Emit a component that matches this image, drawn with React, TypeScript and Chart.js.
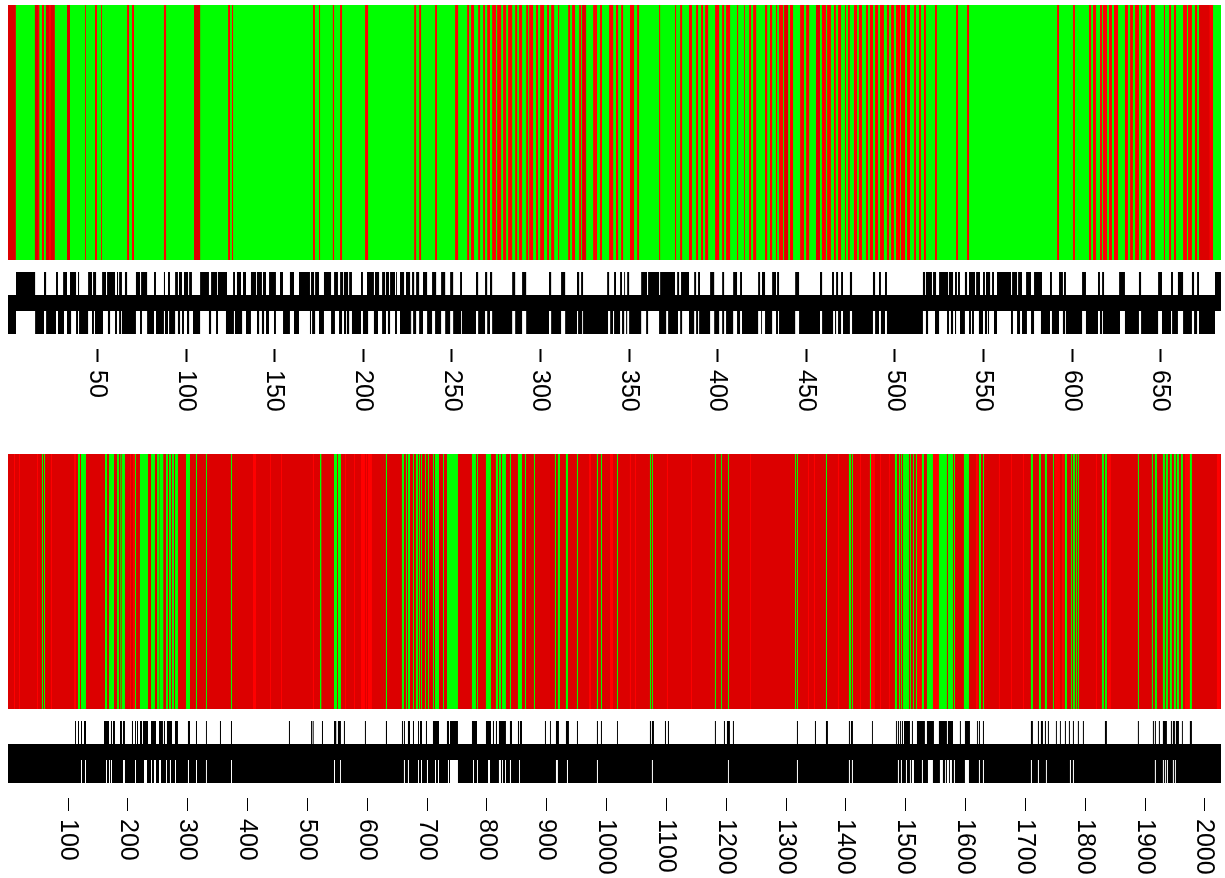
import React, { useEffect, useRef } from "react";
import { Chart, registerables } from "chart.js";

Chart.register(...registerables);

// All stripe lists are flat [start, end, start, end, ...] in axis units.
const topRange = [-0.5, 684];
const bottomRange = [-0.5, 2027];
const topTicks = [50, 100, 150, 200, 250, 300, 350, 400, 450, 500, 550, 600, 650];
const bottomTicks = [100, 200, 300, 400, 500, 600, 700, 800, 900, 1000, 1100, 1200, 1300, 1400, 1500, 1600, 1700, 1800, 1900, 2000];

const topRed = [
  -0.5,3.8,14.7,17.2,18.7,19.8,20.9,25.8,32.8,34.5,43,43.5,48.6,49.7,52,52.5,66.7,67.8,69.5,70.6,87.5,88.7,104.5,107.9,123.7,124.8,125.9,126.5,171.6,172.7,175,175.6,182.8,183.5,186.9,188,201,202.7,
  228.7,229.8,231.5,232.6,240.5,241.6,251.8,253.5,258.6,259.7,260.8,262.5,264.8,265.9,267.6,268.7,269.9,271.5,272.7,274.9,275.5,277.8,278.9,280.6,281.7,284,285.7,286.8,287.9,289.6,291.9,293,293.6,295.8,297.5,298.6,299.8,302,303.7,304.8,306,307.7,309.9,310.5,315.6,316.7,317.8,319.5,321.8,322.9,323.5,325.7,329.7,331.9,333.6,334.7,338.7,341,342.6,343.8,345.5,346.6,350.5,352.8,354.5,355.6,366.9,367.5,375.9,376.5,378.8,379.9,383.8,385.5,387.8,388.9,390.6,391.7,392.9,394.6,398.5,400.8,402.5,403.6,404.7,407,410.9,411.5,414.9,415.4,417.7,418.8,420,421.7,426.7,427.9,429.5,430.7,432.9,433.5,434.6,436.9,437.5,439.7,440.8,442.5,446.5,448.7,449.9,451.6,
  455.5,457.7,458.8,461.1,461.7,463.9,465.6,466.7,467.9,469.6,471.8,472.4,473.5,474.6,476.9,478.6,479.7,481.4,483.7,484.8,485.9,487.6,488.8,490.5,491.6,493.8,495.5,496.7,497.8,499.5,500.6,502.9,503.4,505.7,506.8,508.5,510.8,511.9,513.6,514.7,516.4,517.5,522.6,523.7,534.5,535.6,540.7,541.8,591.5,592.6,600.5,601.6,609.5,610.7,611.8,613.5,615.7,616.9,617.4,619.7,620.8,622.5,623.6,625.9,629.8,631.5,632.7,634.3,635.5,637.7,638.9,639.4,641.7,643.4,644.5,646.8,651.8,652.4,654.7,655.8,657.5,658.6,662.6,664.8,665.4,667.6,669.3,670.5,671.6,679.5,
];
const topDark = [-0.5,3.8,14.7,16.5,20.9,22.6,23.7,25.8,32.8,34.5,104.5,107.9,323.5,325.7,437.5,439.7,455.5,457.7,671.6,677.5];

const topUpper = [
  4,14.8,19.8,21,26.6,27.7,30.6,32.8,34.5,37.9,39,39.6,44.7,46.9,47.5,49.2,52.6,54.8,55.4,59.9,61,61.6,62.2,63.8,65.5,66.7,71.7,74,74.6,78,81.9,83,87.5,88.1,89.8,90.9,93.8,95.4,96,97.7,98.8,101.1,101.7,103.3,107.9,112.9,114.1,117.5,118,123.1,126.5,127.6,128.7,131,132.1,133.8,136.6,139.5,140,142.8,143.4,145.1,146.8,150.7,153,154.7,158.6,160.9,163.7,169.9,170.5,172.2,172.8,175,177.8,181.8,183.5,185.7,186.9,188.6,189.1,191.4,192,193.6,198.7,199.8,202.1,206,206.6,208.9,210.6,212.3,212.8,214.5,215.1,217.9,218.5,219,220.7,223,224.1,226.4,
  227.5,228.7,229.8,231.5,233.7,236,238.8,241.1,243.9,246.2,249,250.7,254.6,255.7,263.6,264.8,268.7,269.9,271.5,272.7,284,285.7,289.6,291.9,304.8,306,311.6,313.9,320.6,321.8,322.9,324,337.6,338.7,341.5,342.6,344.9,346,347.2,347.7,348.9,350,356.8,360.1,360.7,366.9,367.5,375.9,377.1,378.2,379.3,383.8,386.7,387.8,388.9,390,395.7,398,402.5,403.6,408.7,410.9,412.6,413.7,422.8,423.9,425,426.7,430.7,432.9,433.5,434.6,443.7,445.9,
  457.7,458.9,464.5,465.6,466.8,467.9,469.6,470.7,474.6,475.8,487.6,488.8,491,492.1,494.4,495.5,515.8,517,517.5,520.9,521.5,523.2,524.9,530,530.5,532.8,533.9,535,535.6,536.7,539.5,540.7,541.8,545.2,545.8,548,549.7,550.8,551.4,553.7,554.8,555.9,557.6,565.5,566.1,568.9,569.5,571.7,574,576.8,578.5,583,587.5,588.6,592.6,594.8,595.4,596.5,605.6,607.8,614.6,615.7,616.9,618,626.5,629.8,637.7,638.9,648.5,650.7,655.8,656.9,659.7,662.6,667.6,668.8,670.5,671.6,680.6,684,
];
const topLower = [
  -0.5,4,14.8,19.8,21,26.6,27.7,31.1,32.8,35.1,37.9,39,39.6,44.7,46.9,48,48.6,53.1,55.9,57.1,59.9,61,62.2,63.3,63.8,71.7,74,75.1,78,81.9,83,87.5,88.1,89.8,90.4,93.8,95.4,96.6,97.7,98.8,100.5,101.7,103.9,107.9,112.9,114.1,116.9,118,122.5,127,127.6,131.6,133.8,136.6,140,141.2,142.8,144,145.1,146.8,149.6,150.7,154.7,158.6,160.9,163.7,169.9,170.5,171.1,172.8,175,177.8,181.8,184,186.3,188,189.1,190.3,190.8,192,193.6,198.7,199.8,202.7,206,208.3,210.6,212.8,213.9,215.1,217.9,219,220.7,226.4,
  226.4,227,228.1,229.8,231.5,233.7,236,238.8,240.5,243.9,246.2,249,250.7,255.2,255.7,263.6,264.8,268.7,269.9,271.5,272.7,284,285.7,289.6,291.9,304.8,306,311.6,313.9,320.6,321.2,323.5,324,338.1,339.3,340.9,341.5,344.9,346,347.2,348.3,348.9,350,356.8,359.6,360.7,366.9,370.9,372,377.6,378.8,379.9,383.8,386.7,387.8,388.9,389.5,395.7,398,400.8,402.5,403.6,404.7,408.7,410.9,412.6,413.7,422.8,424.5,425,426.7,430.7,432.9,434,434.6,443.7,445.9,454.9,
  454.9,457.7,458.9,465.1,466.2,466.8,467.9,469.6,470.7,474.6,475.8,487.6,488.8,491,492.1,494.4,495.5,515.8,517.5,518.7,522.6,524.9,529.4,530.5,531.6,532.8,533.9,534.5,536.7,539.5,541.8,542.9,543.5,544.6,547.4,549.7,550.8,552,552.5,553.1,555.9,557.6,565.5,566.6,568.9,570.6,571.7,574.5,576.8,578.5,582.4,587.5,588.6,592.6,594.8,596,596.5,605.6,607.8,614.6,615.7,616.9,617.4,627,629.8,637.7,638.9,648.5,650.7,655.8,656.4,659.7,662.6,667.6,668.8,670.5,671.6,680.6,
];

const bottomGreen = [
  56.3,58,59.7,61.3,116.5,119.8,121.5,129.9,161.6,165,168.3,176.7,181.7,185,187.2,189,190,195,211.8,213.4,220.1,233.5,238.5,245.2,248.5,251.9,252.6,259.1,263.6,266.9,268.6,272,273.6,277,278.6,283.6,297,303.7,313.7,315.4,330.4,332,372.2,373.9,521,523.2,544.4,549.4,551,556,631.2,633,658,661.3,664.7,666.4,668,671.4,
  676.4,678.1,681.4,684.8,686.4,688.1,689.8,691.5,696.5,698.1,701.5,703.2,709.8,711.5,713.2,719.9,726.6,728.2,733.2,751.6,775,781.7,783.4,785,798.4,806.8,815.1,818.5,820.1,823.5,825.2,831.8,838.5,840.2,851.9,858.6,863.6,865.3,878.6,880.3,913.7,915.4,918.7,922.1,932.1,935.5,950.5,952.2,983.9,985.6,990.6,992.3,1017.4,1019,1072.5,1074.2,1075.8,1077.5,1181.1,1182.8,1191.2,1192.8,1202.9,1204.5,1314.9,1316.5,1318.2,1319.9,
  1366.7,1368.4,1405.1,1408.5,1410.1,1411.8,1440.2,1441.9,1482,1485.3,1488.7,1490.4,1492,1493.7,1495.4,1505.4,1507.1,1508.7,1512.1,1513.8,1517.1,1518.8,1527.1,1530.5,1535.5,1545.5,1555.5,1568.9,1570.6,1579,1580.6,1582.3,1597.3,1605.7,1622.4,1625.8,1629.1,1630.8,1709.3,1712.6,1722.7,1726,1732.7,1736,1746.1,1747.7,1766.1,1769.5,1776.2,1777.8,1779.5,1782.8,1784.5,1786.2,1787.8,1789.5,1828,1831.3,1833,1836.3,1888.1,1889.8,1911.5,1913.2,1916.5,1919.9,1929.9,1933.3,1934.9,1938.3,1941.6,1945,1948.3,1951.6,1953.3,1956.7,1960,1963.3,1975,1978.4,
];
const bottomBright = [
  9.5,11.2,18,19.6,48,49.6,71.4,73,109.8,113.1,203.4,205.1,208.4,211.8,409,414,437.4,439,455.8,457.4,509.2,510.9,562.7,564.4,577.8,579.4,589.5,596.1,597.8,599.5,601.2,607.8,
  970.6,973.9,1005.7,1010.7,1039,1040.7,1047.4,1049.1,1100.9,1102.6,1141,1142.7,1239.7,1241.3,1336.6,1338.2,1346.6,1348.3,
  1386.7,1388.4,1423.5,1425.2,1441.9,1448.6,1457,1458.6,1472,1473.6,1518.8,1527.1,1545.5,1555.5,1617.4,1620.7,1655.8,1657.5,1675.9,1677.5,1696,1697.6,1749.4,1757.8,1761.1,1764.5,1818,1819.6,1838,1843,1966.7,1975,2020.2,2025.2,
];
const bottomUpper = [
  111.5,113.1,116.5,118.2,121.5,123.2,126.5,129.9,160,168.3,171.6,173.3,175,178.3,186.7,190,191.7,195,206.7,208.4,211.8,213.4,215.1,216.8,220.1,223.5,225.1,233.5,238.5,246.9,251.9,258.5,260.2,261.9,265.2,273.6,278.6,283.6,300.3,303.7,313.7,315.4,330.4,332,353.8,355.5,372.2,373.9,469.1,470.8,506,507.6,508.7,510.4,524.3,526,544.4,548.2,551,556,561,562.7,596.1,597.8,631.2,633,658,659.7,661.3,663,668,671.4,
  676.4,678.1,684.8,686.4,688.1,691.5,698.1,699.8,709.8,719.9,733.2,736.6,738.3,751.6,775,783.4,798.4,806.8,810.1,811.8,815.1,816.8,820.1,831.8,838.5,841.9,851.9,853.6,855.2,858.6,897,898.7,905.4,907,915.4,920.4,932.1,937.1,950.5,952.2,983.9,985.6,990.6,992.3,1017.4,1019,1072.5,1074.2,1075.8,1079.2,1097.6,1099.3,1102.6,1104.3,1181.1,1182.8,1196.2,1197.9,1201.2,1206.2,1211.2,1212.9,1318.2,1319.9,1348.3,1350,
  1366.7,1370,1405.1,1406.8,1408.5,1411.8,1443.6,1445.2,1483.7,1485.3,1487,1488.7,1490.4,1492,1493.7,1495.4,1497.1,1507.1,1510.4,1512.1,1518.8,1532.1,1535.5,1547.2,1555.5,1568.9,1570.6,1579,1590.6,1592.3,1599,1607.4,1619.1,1620.7,1622.4,1624.1,1629.1,1630.8,1709.3,1712.6,1721,1722.7,1726,1729.4,1732.7,1734.4,1737.7,1739.4,1751.1,1752.7,1757.8,1759.4,1766.1,1767.8,1772.8,1774.5,1779.5,1781.2,1787.8,1789.5,1796.2,1797.9,1833,1836.3,1888.1,1889.8,1913.2,1914.9,1916.5,1918.2,1923.2,1924.9,1929.9,1936.6,1943.3,1945,1946.6,1950,1951.6,1956.7,1961.7,1963.3,1975,1978.4,
];
const bottomLowerGaps = [
  121.5,123.2,128.2,129.9,163.3,165,168.3,170,171.6,173.3,191.7,195,211.8,213.4,226.8,231.8,238.5,240.2,243.5,246.9,251.9,255.2,263.6,265.2,270.2,271.9,278.6,280.3,300.3,302,313.7,315.4,330.4,332,372.2,373.9,544.4,546.1,554.4,556,661.3,663,668,669.7,
  684.8,686.4,689.8,691.5,699.8,701.5,713.2,714.9,718.2,719.9,734.9,736.6,738.3,751.6,776.7,778.4,783.4,785,801.8,805.1,820.1,823.5,825.2,826.8,830.2,831.8,838.5,840.2,853.6,855.2,915.4,918.7,933.8,935.5,983.9,985.6,1075.8,1077.5,1202.9,1204.5,1318.2,1319.9,
  1405.1,1406.8,1410.1,1411.8,1487,1488.7,1492,1493.7,1500.4,1502.1,1507.1,1508.7,1510.4,1513.8,1527.1,1528.8,1537.2,1545.5,1557.2,1562.2,1565.6,1567.2,1568.9,1572.3,1573.9,1577.3,1580.6,1582.3,1599,1605.7,1622.4,1624.1,1629.1,1630.8,1709.3,1711,1721,1722.7,1734.4,1736,1774.5,1776.2,1779.5,1781.2,1916.5,1918.2,1929.9,1931.6,1933.3,1934.9,1936.6,1938.3,1946.6,1948.3,1950,1951.6,
];

const GREEN = "#00FF00";
const RED = "#FF0000";
const DARK = "#DC0000";
const BLACK = "#000000";
const FONT = '25px "Liberation Sans", Arial, sans-serif';
const heatRow = { center: 132.5, size: 255 };
const upperRow = { center: 283.5, size: 23 };
const bandRow = { center: 303, size: 16 };
const lowerRow = { center: 322.5, size: 23 };

const complement = (gaps: number[], range: number[]) => {
  const out = [range[0]];
  gaps.forEach((g) => out.push(g));
  out.push(range[1]);
  return out;
};

const layer = (flat: number[], row: { center: number; size: number }, color: string) => {
  const data: { x: number[]; y: number }[] = [];
  for (let i = 0; i + 1 < flat.length; i += 2) data.push({ x: [flat[i], flat[i + 1]], y: row.center });
  return {
    data,
    backgroundColor: color,
    barThickness: row.size,
    grouped: false,
    inflateAmount: 0,
    borderWidth: 0,
  };
};

const makeChart = (canvas: HTMLCanvasElement, paintOrder: any[], range: number[], ticks: number[], tickWidth: number) => {
  const axisHeight = canvas.height - 349;
  const labels = {
    id: "clockwiseTickLabels",
    afterDraw(chart: any) {
      const { ctx, scales } = chart;
      ctx.save();
      ctx.font = FONT;
      ctx.fillStyle = BLACK;
      ctx.textAlign = "left";
      ctx.textBaseline = "middle";
      ticks.forEach((t) => {
        ctx.save();
        ctx.translate(scales.x.getPixelForValue(t) - 0.5, 370);
        ctx.rotate(Math.PI / 2);
        ctx.fillText(String(t), 0, 0);
        ctx.restore();
      });
      ctx.restore();
    },
  };
  return new Chart(canvas, {
    type: "bar",
    // Chart.js paints the first dataset last, so the list is reversed.
    data: { datasets: [...paintOrder].reverse() },
    plugins: [labels],
    options: {
      indexAxis: "y",
      animation: false,
      responsive: false,
      devicePixelRatio: 1,
      layout: { padding: { left: 8, right: 4, top: 5, bottom: 0 } },
      plugins: { legend: { display: false }, tooltip: { enabled: false } },
      scales: {
        x: {
          type: "linear",
          position: "bottom",
          min: range[0],
          max: range[1],
          border: { display: false },
          grid: { drawOnChartArea: false, drawTicks: true, tickLength: 13, tickColor: BLACK, tickWidth },
          ticks: { display: false },
          afterBuildTicks: (s: any) => {
            s.ticks = ticks.map((value) => ({ value }));
          },
          afterFit: (s: any) => {
            s.height = axisHeight;
          },
        },
        y: { type: "linear", display: false, reverse: true, min: 5, max: 349, offset: false },
      },
    } as any,
  });
};

export default function App() {
  const topRef = useRef<HTMLCanvasElement>(null);
  const bottomRef = useRef<HTMLCanvasElement>(null);
  useEffect(() => {
    const a = makeChart(
      topRef.current!,
      [
        layer(topRange, heatRow, GREEN),
        layer(topRed, heatRow, RED),
        layer(topDark, heatRow, DARK),
        layer(topUpper, upperRow, BLACK),
        layer(topRange, bandRow, BLACK),
        layer(topLower, lowerRow, BLACK),
      ],
      topRange,
      topTicks,
      2
    );
    const b = makeChart(
      bottomRef.current!,
      [
        layer(bottomRange, heatRow, DARK),
        layer(bottomBright, heatRow, RED),
        layer(bottomGreen, heatRow, GREEN),
        layer(bottomUpper, upperRow, BLACK),
        layer(bottomRange, bandRow, BLACK),
        layer(complement(bottomLowerGaps, bottomRange), lowerRow, BLACK),
      ],
      bottomRange,
      bottomTicks,
      1
    );
    return () => {
      a.destroy();
      b.destroy();
    };
  }, []);
  return (
    <div style={{ position: "absolute", left: 0, top: 0, width: 1225, height: 878, background: "#fff" }}>
      <canvas ref={topRef} width={1225} height={439} style={{ position: "absolute", left: 0, top: 0 }} />
      <canvas ref={bottomRef} width={1225} height={429} style={{ position: "absolute", left: 0, top: 449 }} />
    </div>
  );
}
